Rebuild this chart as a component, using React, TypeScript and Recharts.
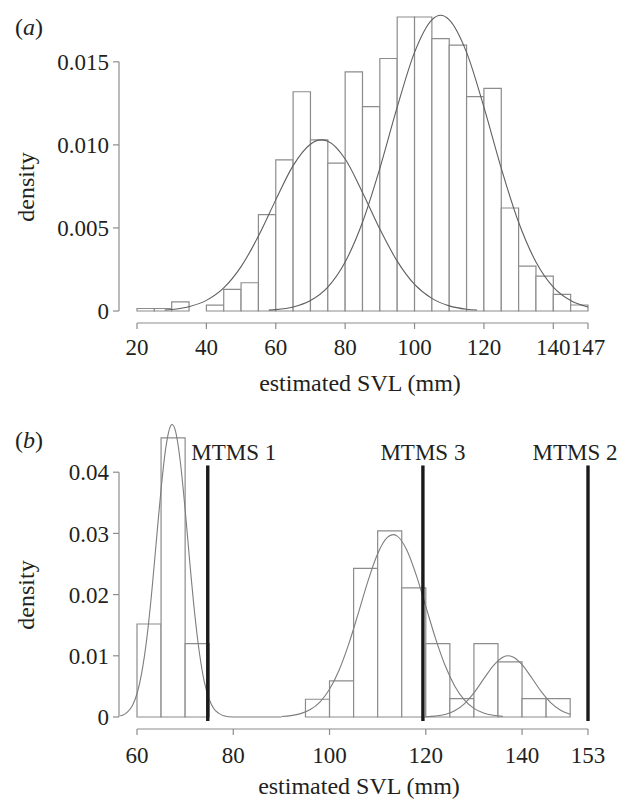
import React from "react";
import { ComposedChart, Line, XAxis, YAxis, ReferenceArea, ReferenceLine } from "recharts";

const FONT = '"Liberation Serif", "Times New Roman", serif';
const INK = "#231f20";
const AXIS = "#8c8c8c";
const BAR_EDGE = "#8c8c8c";
const FS = 23;
const TITLE_FS = 24;

// ---- (a) histogram, 5 mm bins ----
const A_BIN_WIDTH = 5;
const A_BIN_START = [20, 25, 30, 35, 40, 45, 50, 55, 60, 65, 70, 75, 80, 85, 90, 95, 100, 105, 110, 115, 120, 125, 130, 135, 140, 145];
const A_DENSITY = [
  0.00015, 0.00015, 0.00055, 0, 0.00035, 0.0013, 0.0017, 0.0058, 0.0091, 0.0132, 0.0103, 0.0089, 0.0144,
  0.0123, 0.0152, 0.0177, 0.0177, 0.0164, 0.016, 0.0129, 0.0134, 0.0062, 0.0027, 0.0021, 0.001, 0.00036,
];
const A_FIT1_X = [28, 30, 35, 40, 45, 50, 55, 60, 65, 70, 73, 75, 80, 85, 90, 95, 100, 105, 110, 115, 118];
const A_FIT1_Y = [
  0.00006, 0.00009, 0.00026, 0.00064, 0.00139, 0.00267, 0.00451, 0.00669, 0.00875, 0.01004, 0.0103, 0.01022,
  0.00915, 0.00714, 0.00493, 0.003, 0.0016, 0.00076, 0.00031, 0.00011, 0.00006,
];
const A_FIT2_X = [58, 60, 65, 70, 75, 80, 85, 90, 95, 100, 105, 107.5, 110, 115, 120, 125, 130, 135, 140, 145, 150];
const A_FIT2_Y = [
  0.00005, 0.00008, 0.00024, 0.00063, 0.00144, 0.00295, 0.00534, 0.00859, 0.01227, 0.01557, 0.01753, 0.0178,
  0.01753, 0.01557, 0.01227, 0.00859, 0.00534, 0.00295, 0.00144, 0.00063, 0.00024,
];
const A_X_TICKS = [20, 40, 60, 80, 100, 120, 140, 150];
const A_X_LABELS = ["20", "40", "60", "80", "100", "120", "140", "147"];
const A_Y_TICKS = [0, 0.005, 0.01, 0.015];
const A_Y_LABELS = ["0", "0.005", "0.010", "0.015"];

// ---- (b) histogram, 5 mm bins ----
const B_BIN_WIDTH = 5;
const B_BIN_START = [60, 65, 70, 95, 100, 105, 110, 115, 120, 125, 130, 135, 140, 145];
const B_DENSITY = [0.0152, 0.0456, 0.012, 0.0029, 0.0059, 0.0243, 0.0304, 0.0211, 0.012, 0.003, 0.012, 0.009, 0.003, 0.003];
const B_FIT1_X = [56.5, 57, 58, 59, 60, 61, 62, 63, 64, 65, 66, 67, 67.3, 68, 69, 70, 71, 72, 73, 74, 75, 76, 77, 78, 80, 85, 90];
const B_FIT1_Y = [
  0.0002, 0.0003, 0.0008, 0.0018, 0.0038, 0.0073, 0.0126, 0.0199, 0.0286, 0.0372, 0.0441, 0.0476, 0.0478, 0.0467,
  0.0417, 0.0339, 0.025, 0.0168, 0.0103, 0.0057, 0.0029, 0.0013, 0.0006, 0.0002, 0, 0, 0,
];
const B_FIT2_X = [90, 92, 94, 96, 98, 100, 102, 104, 106, 108, 110, 112, 113.2, 114, 116, 118, 120, 122, 124, 126, 128, 130, 132, 134, 136];
const B_FIT2_Y = [
  0.00009, 0.00023, 0.00055, 0.00122, 0.00245, 0.00453, 0.00768, 0.01194, 0.01702, 0.02225, 0.02668, 0.02934, 0.0298,
  0.0296, 0.02738, 0.02323, 0.01807, 0.0129, 0.00845, 0.00507, 0.00279, 0.00141, 0.00065, 0.00028, 0.00011,
];
const B_FIT3_X = [120, 122, 124, 126, 128, 130, 132, 134, 136, 137.1, 138, 140, 142, 144, 146, 148, 150];
const B_FIT3_Y = [
  0.00004, 0.00015, 0.00042, 0.00102, 0.00216, 0.00393, 0.00618, 0.00837, 0.00978, 0.01, 0.00985, 0.00856, 0.00641,
  0.00414, 0.00231, 0.00111, 0.00046,
];
const B_X_TICKS = [60, 80, 100, 120, 140, 153.7];
const B_X_LABELS = ["60", "80", "100", "120", "140", "153"];
const B_Y_TICKS = [0, 0.01, 0.02, 0.03, 0.04];
const B_Y_LABELS = ["0", "0.01", "0.02", "0.03", "0.04"];

const MTMS_NAMES = ["MTMS 1", "MTMS 3", "MTMS 2"];
const MTMS_SVL = [74.7, 119.4, 153.7];
const MTMS_LINE_TOP = 0.0411;
const MTMS_LABEL_DX = [26, 0, -13];

const zip = (xs: number[], ys: number[]) => xs.map((x, i) => ({ x, y: ys[i] }));

const tickStyle = { fill: INK, fontSize: FS, fontFamily: FONT, stroke: "none" };
const tickLineStyle = { stroke: AXIS, strokeWidth: 1.2 };

// detached R-style axis lines: drawn along the tick range, nudged off the plot
const axisShape = (dx: number, dy: number) => (p: any) => (
  <line x1={p.x1 + dx} y1={p.y1 + dy} x2={p.x2 + dx} y2={p.y2 + dy} stroke={AXIS} strokeWidth={1.2} />
);

function Panel({
  top,
  height,
  marginTop,
  marginBottom,
  xDomain,
  xPadLeft,
  xTicks,
  xLabels,
  xTickMargin,
  yDomain,
  yTicks,
  yLabels,
  binStart,
  binWidth,
  density,
  curves,
  curveColor,
  children,
}: any) {
  const xFirst = xTicks[0];
  const xLast = xTicks[xTicks.length - 1];
  return (
    <div style={{ position: "absolute", left: 0, top }}>
      <ComposedChart
        width={622}
        height={height}
        margin={{ top: marginTop, right: 34, bottom: marginBottom, left: 0 }}
      >
        <XAxis
          type="number"
          dataKey="x"
          domain={xDomain}
          ticks={xTicks}
          interval={0}
          allowDataOverflow
          padding={{ left: xPadLeft, right: 0 }}
          axisLine={false}
          tickLine={tickLineStyle}
          tickSize={6}
          tickMargin={xTickMargin}
          height={30}
          tick={tickStyle}
          tickFormatter={(v: number) => xLabels[xTicks.indexOf(v)]}
        />
        <YAxis
          type="number"
          domain={yDomain}
          ticks={yTicks}
          interval={0}
          width={119}
          padding={{ top: 0, bottom: 12 }}
          axisLine={false}
          tickLine={tickLineStyle}
          tickSize={6}
          tickMargin={4}
          tick={tickStyle}
          tickFormatter={(v: number) => yLabels[yTicks.indexOf(v)]}
        />
        {binStart.map((b: number, i: number) => (
          <ReferenceArea
            key={"bin" + i}
            x1={b}
            x2={b + binWidth}
            y1={0}
            y2={density[i]}
            fill="#fff"
            fillOpacity={1}
            stroke={BAR_EDGE}
            strokeWidth={1.2}
          />
        ))}
        {curves.map((c: any, i: number) => (
          <Line
            key={"fit" + i}
            data={c}
            dataKey="y"
            type="monotone"
            dot={false}
            stroke={curveColor}
            strokeWidth={1.1}
            isAnimationActive={false}
          />
        ))}
        <ReferenceLine
          segment={[
            { x: xFirst, y: 0 },
            { x: xLast, y: 0 },
          ]}
          shape={axisShape(0, 12)}
        />
        <ReferenceLine
          segment={[
            { x: xFirst, y: yTicks[0] },
            { x: xFirst, y: yTicks[yTicks.length - 1] },
          ]}
          shape={axisShape(-18, 0)}
        />
        {children}
      </ComposedChart>
    </div>
  );
}

export default function App() {
  return (
    <div
      style={{
        position: "absolute",
        left: 0,
        top: 0,
        width: 622,
        height: 801,
        background: "#fff",
        overflow: "hidden",
      }}
    >
      <Panel
        top={0}
        height={400}
        marginTop={12}
        marginBottom={47}
        xDomain={[20, 150]}
        xPadLeft={18}
        xTicks={A_X_TICKS}
        xLabels={A_X_LABELS}
        xTickMargin={10}
        yDomain={[0, 0.018]}
        yTicks={A_Y_TICKS}
        yLabels={A_Y_LABELS}
        binStart={A_BIN_START}
        binWidth={A_BIN_WIDTH}
        density={A_DENSITY}
        curves={[zip(A_FIT1_X, A_FIT1_Y), zip(A_FIT2_X, A_FIT2_Y)]}
        curveColor="#5f5f5f"
      />
      <Panel
        top={400}
        height={401}
        marginTop={11}
        marginBottom={42}
        xDomain={[56.26, 153.7]}
        xPadLeft={0}
        xTicks={B_X_TICKS}
        xLabels={B_X_LABELS}
        xTickMargin={12}
        yDomain={[0, 0.05]}
        yTicks={B_Y_TICKS}
        yLabels={B_Y_LABELS}
        binStart={B_BIN_START}
        binWidth={B_BIN_WIDTH}
        density={B_DENSITY}
        curves={[zip(B_FIT1_X, B_FIT1_Y), zip(B_FIT2_X, B_FIT2_Y), zip(B_FIT3_X, B_FIT3_Y)]}
        curveColor="#7d7d7d"
      >
        {MTMS_SVL.map((v, i) => (
          <ReferenceLine
            key={"mtms" + i}
            segment={[
              { x: v, y: 0 },
              { x: v, y: MTMS_LINE_TOP },
            ]}
            shape={(p: any) => (
              <g>
                <line x1={p.x1} y1={p.y1 + 4} x2={p.x2} y2={p.y2} stroke="#1a1a1a" strokeWidth={3.4} />
                <text
                  x={p.x2 + MTMS_LABEL_DX[i]}
                  y={p.y2 - 5}
                  textAnchor="middle"
                  fontFamily={FONT}
                  fontSize={FS}
                  fill={INK}
                >
                  {MTMS_NAMES[i]}
                </text>
              </g>
            )}
          />
        ))}
      </Panel>
      <svg
        width={622}
        height={801}
        style={{ position: "absolute", left: 0, top: 0, pointerEvents: "none" }}
        fontFamily={FONT}
        fontSize={TITLE_FS}
        fill={INK}
      >
        <text x={15} y={35}>
          (<tspan fontStyle="italic">a</tspan>)
        </text>
        <text x={15} y={447.5}>
          (<tspan fontStyle="italic">b</tspan>)
        </text>
        <text transform="translate(34,187) rotate(-90)" textAnchor="middle">
          density
        </text>
        <text transform="translate(34,595) rotate(-90)" textAnchor="middle">
          density
        </text>
        <text x={360} y={391} textAnchor="middle">
          estimated SVL (mm)
        </text>
        <text x={359} y={794} textAnchor="middle">
          estimated SVL (mm)
        </text>
      </svg>
    </div>
  );
}
